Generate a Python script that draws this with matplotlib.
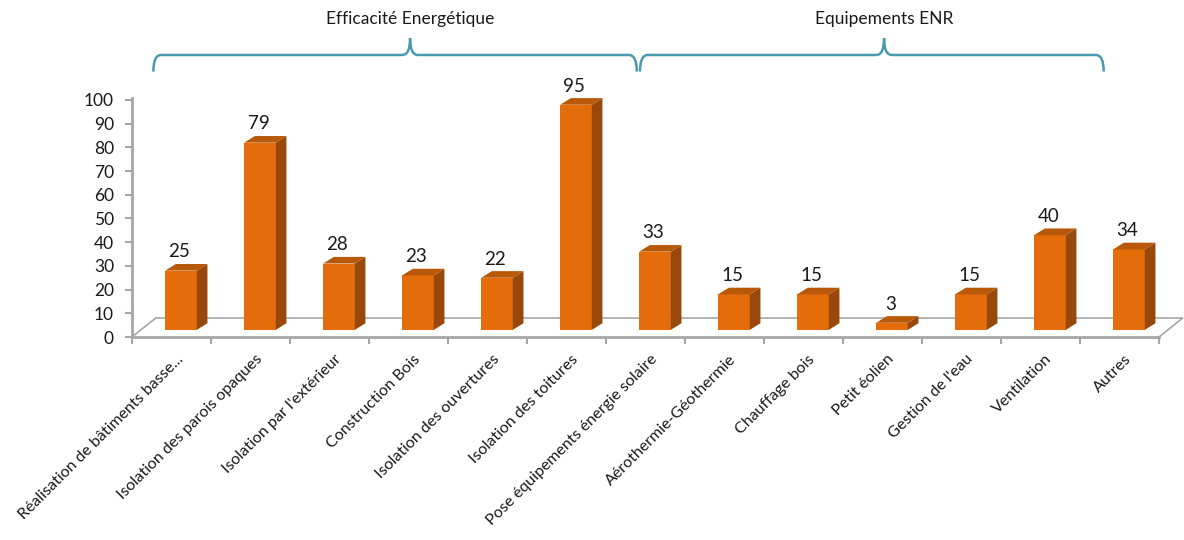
import matplotlib
matplotlib.use("Agg")
import matplotlib.pyplot as plt
from matplotlib.path import Path
from matplotlib.patches import PathPatch

plt.rcParams['font.family'] = ['Lato', 'DejaVu Sans']

# ---------------- data ----------------
categories = [
    "Réalisation de bâtiments basse...",
    "Isolation des parois opaques",
    "Isolation par l'extérieur",
    "Construction Bois",
    "Isolation des ouvertures",
    "Isolation des toitures",
    "Pose équipements énergie solaire",
    "Aérothermie-Géothermie",
    "Chauffage bois",
    "Petit éolien",
    "Gestion de l'eau",
    "Ventilation",
    "Autres",
]
values = [25, 79, 28, 23, 22, 95, 33, 15, 15, 3, 15, 40, 34]
y_ticks = [0, 10, 20, 30, 40, 50, 60, 70, 80, 90, 100]
group_names = ["Efficacité Energétique", "Equipements ENR"]
group_spans = [(0, 6), (6, 12)]   # first / last category index of each group

# ---------------- style ----------------
C_FRONT = '#E46C0A'
C_SIDE = '#98480A'
C_TOP = '#B8590A'
C_AXIS = '#A6A6A6'
C_BRACE = '#4A9AAF'
C_TEXT = '#1a1a1a'

W, H = 1184, 540
fig = plt.figure(figsize=(W / 100, H / 100), dpi=100)
x0p, x1p, y0p, y100p = 132, 1159, 337, 100
ax = fig.add_axes([x0p / W, (H - y0p) / H, (x1p - x0p) / W, (y0p - y100p) / H])
n = len(categories)
ax.set_xlim(0, n)
ax.set_ylim(0, 100)
for s in ['top', 'right', 'bottom']:
    ax.spines[s].set_visible(False)
ax.spines['left'].set_color(C_AXIS)
ax.spines['left'].set_linewidth(2)
ax.spines['left'].set_bounds(0, 101)
ax.set_yticks(y_ticks)
ax.set_yticklabels([str(t) for t in y_ticks], fontsize=12.5, color=C_TEXT)
ax.tick_params(axis='y', direction='out', length=5, width=1.5, color=C_AXIS, pad=8)
ax.set_xticks(range(n + 1))
ax.set_xticklabels([])
ax.tick_params(axis='x', direction='out', length=5, width=1.5, color=C_AXIS)
ax.patch.set_visible(False)

# floor (depth vector)
DX, DY = 0.30, 8.0
floor_x = [0, n, n + DX, DX, 0]
floor_y = [0, 0, DY, DY, 0]
ax.plot(floor_x[1:], floor_y[1:], color=C_AXIS, lw=1.2, clip_on=False, zorder=1)
ax.plot([0, n], [0, 0], color=C_AXIS, lw=2, clip_on=False, zorder=1)

# bars with faux 3D
off, bw, b0 = 0.42, 0.40, 3.0
sx, sy = 0.135, 2.8
for i, v in enumerate(values):
    xl = i + off
    ax.bar(xl, v, width=bw, bottom=b0, align='edge', color=C_FRONT,
           edgecolor='none', zorder=3, clip_on=False)
    xr = xl + bw
    top = b0 + v
    ax.fill([xr, xr + sx, xr + sx, xr], [b0, b0 + sy, top + sy, top],
            color=C_SIDE, zorder=3, clip_on=False, lw=0)
    ax.fill([xl, xr, xr + sx, xl + sx], [top, top, top + sy, top + sy],
            color=C_TOP, zorder=3, clip_on=False, lw=0)
    ax.text(xl + bw / 2 - 0.02, top + sy + 1.5, str(v), ha='center', va='bottom',
            fontsize=13.5, color=C_TEXT, zorder=4)

# category labels
for i, c in enumerate(categories):
    ax.text(i + 0.62, -8.5, c, rotation=45, rotation_mode='anchor',
            ha='right', va='center', fontsize=11.5, color=C_TEXT, clip_on=False)

# group braces
y_end, y_line, y_peak, y_lab = 112, 119, 126, 134
for name, (a, b) in zip(group_names, group_spans):
    xa = a + 0.27 if a == 0 else a + 0.43
    xb = b + 0.39 if b < n - 1 else b + 0.3
    xm = (a + b + 1) / 2.0 + 0.02
    r = 0.1
    verts = [(xa, y_end), (xa, y_line), (xa + r, y_line),
             (xm - r, y_line),
             (xm, y_line), (xm, y_peak),
             (xm, y_line), (xm + r, y_line),
             (xb - r, y_line),
             (xb, y_line), (xb, y_end)]
    codes = [Path.MOVETO, Path.CURVE3, Path.CURVE3,
             Path.LINETO,
             Path.CURVE3, Path.CURVE3,
             Path.CURVE3, Path.CURVE3,
             Path.LINETO,
             Path.CURVE3, Path.CURVE3]
    ax.add_patch(PathPatch(Path(verts, codes), fill=False, edgecolor=C_BRACE,
                           lw=1.8, clip_on=False))
    ax.text(xm, y_lab, name, ha='center', va='center', fontsize=12.5,
            color=C_TEXT, clip_on=False)

fig.savefig('out.png', dpi=100)
